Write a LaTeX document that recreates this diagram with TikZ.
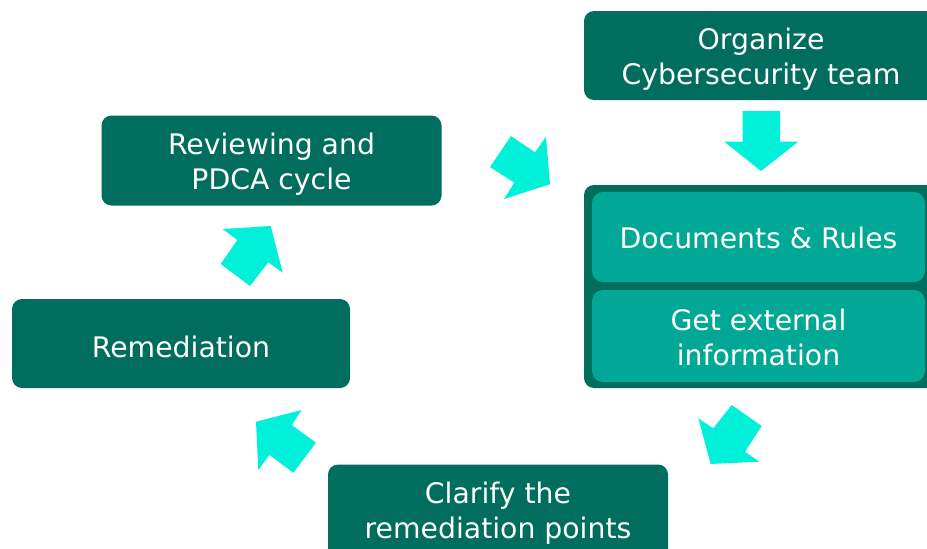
\documentclass[tikz,border=0pt]{standalone}
\usepackage{fontspec}
\setmainfont{DejaVu Sans}
\definecolor{boxdark}{HTML}{006D5E}
\definecolor{boxlight}{HTML}{00A895}
\definecolor{arrowcyan}{HTML}{00F0DA}
\begin{document}
\begin{tikzpicture}[x=1pt,y=-1pt,
  boxtext/.style={text=white, align=center, inner sep=0pt,
    font=\fontsize{28.3}{35}\selectfont},
  stagebox/.style={fill=boxdark, rounded corners=10pt, inner sep=0pt},
  subbox/.style={fill=boxlight, rounded corners=11pt, inner sep=0pt},
  flowarrow/.style={fill=arrowcyan, draw=none}]
\useasboundingbox (0,0) rectangle (927,549);

% stage boxes
\node[stagebox, minimum width=354pt, minimum height=89pt] (organize) at (761,55.5) {};
\node[stagebox, minimum width=340pt, minimum height=90pt] (review) at (271.5,160.5) {};
\node[stagebox, minimum width=338pt, minimum height=89pt] (remed) at (181,343.5) {};
\node[stagebox, minimum width=340pt, minimum height=96pt] (clarify) at (498,512.5) {};

% container with the two documentation steps
\node[stagebox, minimum width=356pt, minimum height=203pt] (docs) at (762,286.5) {};
\node[subbox, minimum width=333pt, minimum height=90pt] (rules) at (758.5,237) {};
\node[subbox, minimum width=333pt, minimum height=92pt] (extinfo) at (758.5,336) {};

% box captions
\node[boxtext] (organize-t) at ([yshift=-4pt]organize.center) {Organize\\Cybersecurity team};
\node[boxtext] (review-t) at ([yshift=-4pt]review.center) {Reviewing and\\PDCA cycle};
\node[boxtext] (remed-t) at ([yshift=-3pt]remed.center) {Remediation};
\node[boxtext] (clarify-t) at ([yshift=-1pt]clarify.center) {Clarify the\\remediation points};
\node[boxtext] (rules-t) at ([yshift=-1pt]rules.center) {Documents \& Rules};
\node[boxtext] (extinfo-t) at ([yshift=-1.5pt]extinfo.center) {Get external\\information};

% block arrows of the cycle
\fill[flowarrow] (742.5,111) -- (780,111) -- (780,141.5) -- (798.5,141.5)
  -- (761,171) -- (724,141.5) -- (742.5,141.5) -- cycle;
\fill[flowarrow] (490,167) -- (511,136) -- (535,152.3) -- (546,136.7)
  -- (550,184.3) -- (504,199) -- (514.3,182.7) -- cycle;
\fill[flowarrow] (698.3,418.3) -- (713.3,428.3) -- (731.7,405) -- (761.7,426)
  -- (745,451.7) -- (759,461.7) -- (710.7,464) -- cycle;
\fill[flowarrow] (256,421.7) -- (301.7,410) -- (291.7,425) -- (316,442.7)
  -- (293.3,472.7) -- (269.3,455) -- (258.3,470) -- cycle;
\fill[flowarrow] (222.7,229) -- (270.7,226) -- (282.7,272.7) -- (268.3,262.3)
  -- (250,286) -- (220.7,264) -- (237.3,240) -- cycle;
\end{tikzpicture}
\end{document}
